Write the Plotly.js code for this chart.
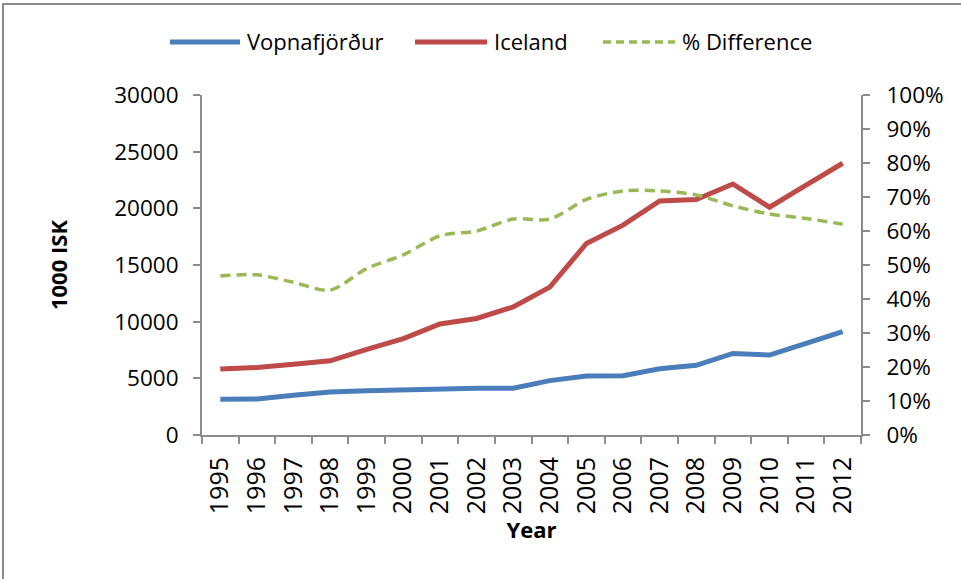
<!DOCTYPE html>
<html>
<head>
<meta charset="utf-8">
<script src="https://cdn.plot.ly/plotly-3.0.1.min.js"></script>
<style>
  html, body { margin: 0; padding: 0; background: #fff; }
  #wrap { position: relative; width: 961px; height: 579px; overflow: hidden; }
  #chart { width: 961px; height: 579px; }
  #frame { position: absolute; left: 2px; top: 3px; width: 1000px; height: 700px;
           border-top: 2px solid #8a8a8a; border-left: 2px solid #8a8a8a; pointer-events: none; }
</style>
</head>
<body>
<div id="wrap">
  <div id="chart"></div>
  <div id="frame"></div>
</div>
<script>
// ---- data ----
const years = ["1995","1996","1997","1998","1999","2000","2001","2002","2003","2004","2005","2006","2007","2008","2009","2010","2011","2012"];
const vopnafjordur = [3150, 3170, 3500, 3800, 3900, 4000, 4050, 4120, 4130, 4800, 5200, 5230, 5850, 6150, 7200, 7050, 8080, 9120];
const iceland = [5820, 5950, 6250, 6550, 7550, 8500, 9800, 10280, 11300, 13050, 16900, 18520, 20650, 20780, 22150, 20100, 22050, 23980];
const pctDiff = [0.468, 0.471, 0.449, 0.426, 0.490, 0.530, 0.586, 0.600, 0.635, 0.635, 0.693, 0.718, 0.718, 0.706, 0.674, 0.650, 0.637, 0.620];
const seriesNames = ["Vopnafjörður", "Iceland", "% Difference"];
const colors = ["#4a7ebb", "#be4b48", "#98b954"];

const FONT = "Open Sans, Noto Sans, sans-serif";
const AXIS_COLOR = "#8c8c8c";

const traces = [
  { x: years, y: vopnafjordur, name: seriesNames[0], type: "scatter", mode: "lines",
    line: { color: colors[0], width: 5 }, yaxis: "y" },
  { x: years, y: iceland, name: seriesNames[1], type: "scatter", mode: "lines",
    line: { color: colors[1], width: 5 }, yaxis: "y" },
  { x: years, y: pctDiff, name: seriesNames[2], type: "scatter", mode: "lines",
    line: { color: colors[2], width: 3.5, dash: "10px,6px", shape: "spline", smoothing: 0.8 }, yaxis: "y2" }
];

// plot area in pixels
const L = 202, R = 100, T = 95, B = 144, W = 961, H = 579;
const PW = W - L - R, PH = H - T - B;
const px = v => (v - L) / PW;
const py = v => (H - B - v) / PH;

// custom legend (layout decoration)
const legendItems = [
  { x0: 170, x1: 240, tx: 245, dash: "solid", width: 5 },
  { x0: 415, x1: 487, tx: 492, dash: "solid", width: 5 },
  { x0: 603, x1: 675, tx: 680, dash: "8px,5px", width: 3.5 }
];
const legendY = 42;
const shapes = legendItems.map((it, i) => ({
  type: "line", xref: "paper", yref: "paper",
  x0: px(it.x0), x1: px(it.x1), y0: py(legendY), y1: py(legendY),
  line: { color: colors[i], width: it.width, dash: it.dash }
}));
const annotations = legendItems.map((it, i) => ({
  xref: "paper", yref: "paper", x: px(it.tx), y: py(legendY - 1),
  xanchor: "left", yanchor: "middle", showarrow: false, text: seriesNames[i],
  font: { family: FONT, size: 22, color: "#000" }
}));

const layout = {
  width: W, height: H,
  margin: { l: L, r: R, t: T, b: B, pad: 0 },
  paper_bgcolor: "#fff", plot_bgcolor: "#fff",
  showlegend: false,
  font: { family: FONT, color: "#000" },
  xaxis: {
    type: "category", tickmode: "array", tickvals: years, ticktext: years,
    tickson: "boundaries", ticks: "outside", ticklen: 7, tickwidth: 2, tickcolor: AXIS_COLOR,
    showline: true, linecolor: AXIS_COLOR, linewidth: 2, showgrid: false, zeroline: false,
    tickangle: -90, tickfont: { family: FONT, size: 25, color: "#000" },
    ticklabelstandoff: 10,
    range: [-0.5, 17.5],
    title: { text: "<b>Year</b>", font: { family: FONT, size: 22, color: "#000" }, standoff: 6 }
  },
  yaxis: {
    range: [0, 30000], dtick: 5000, tick0: 0, tickformat: "d",
    ticks: "outside", ticklen: 7, tickwidth: 2, tickcolor: AXIS_COLOR,
    showline: true, linecolor: AXIS_COLOR, linewidth: 2, showgrid: false, zeroline: false,
    tickfont: { family: FONT, size: 22.5, color: "#000" },
    ticklabelstandoff: 10,
    title: { text: "<b>1000 ISK</b>", font: { family: FONT, size: 22, color: "#000" }, standoff: 40 }
  },
  yaxis2: {
    overlaying: "y", side: "right", range: [0, 1], dtick: 0.1, tick0: 0, tickformat: ".0%",
    ticks: "outside", ticklen: 7, tickwidth: 2, tickcolor: AXIS_COLOR,
    showline: true, linecolor: AXIS_COLOR, linewidth: 2, showgrid: false, zeroline: false,
    tickfont: { family: FONT, size: 22.5, color: "#000" },
    ticklabelstandoff: 12
  },
  shapes: shapes,
  annotations: annotations
};

Plotly.newPlot("chart", traces, layout, { displayModeBar: false, staticPlot: true });
</script>
</body>
</html>
